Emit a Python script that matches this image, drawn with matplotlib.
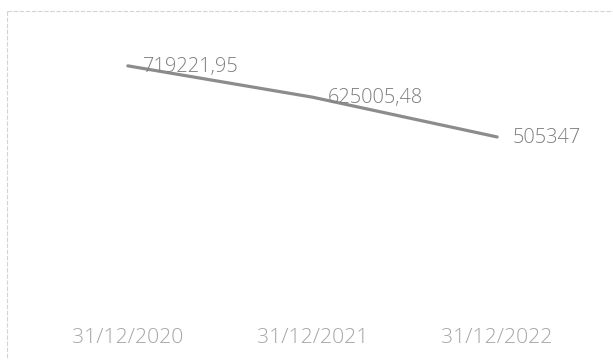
import matplotlib
matplotlib.use("Agg")
import matplotlib.pyplot as plt
from matplotlib.lines import Line2D

# Year-end balances
dates = ["31/12/2020", "31/12/2021", "31/12/2022"]
values = [719221.95, 625005.48, 505347]
value_labels = ["719221,95", "625005,48", "505347"]

W, H = 613, 360
fig = plt.figure(figsize=(W / 100, H / 100), dpi=100)
fig.patch.set_facecolor("white")

# plot area in pixel coordinates
left_px, right_px = 35.5, 589.5
top_px, bottom_px = 39, 305
ax = fig.add_axes([left_px / W, 1 - bottom_px / H,
                   (right_px - left_px) / W, (bottom_px - top_px) / H])

x = list(range(len(dates)))
ax.plot(x, values, color="#8c8c8c", linewidth=2.3, solid_capstyle="round")

ax.set_xlim(-0.5, len(dates) - 0.5)
ax.set_ylim(0, 800000)

for xi, v, lab in zip(x, values, value_labels):
    ax.annotate(lab, (xi, v), xytext=(11, -0.8), textcoords="offset points",
                ha="left", va="center", fontsize=14.4, color="#7f7f7f",
                family="Open Sans", fontweight="light")

ax.set_xticks(x)
ax.set_xticklabels(dates, fontsize=15.2, color="#a6a6a6", family="Open Sans",
                   fontweight="light")
ax.tick_params(axis="x", length=0, pad=16.5)
ax.set_yticks([])
for s in ax.spines.values():
    s.set_visible(False)

# light chart-area border (top and left edges)
fig.add_artist(Line2D([7 / W, 1.0], [1 - 11 / H, 1 - 11 / H],
                      transform=fig.transFigure, color="#d4d4d4",
                      linewidth=0.8, linestyle=(0, (4, 1.5))))
fig.add_artist(Line2D([7 / W, 7 / W], [1 - 11 / H, 0.0],
                      transform=fig.transFigure, color="#d4d4d4",
                      linewidth=0.8, linestyle=(0, (4, 1.5))))

fig.savefig("out.png", dpi=100, facecolor="white")
